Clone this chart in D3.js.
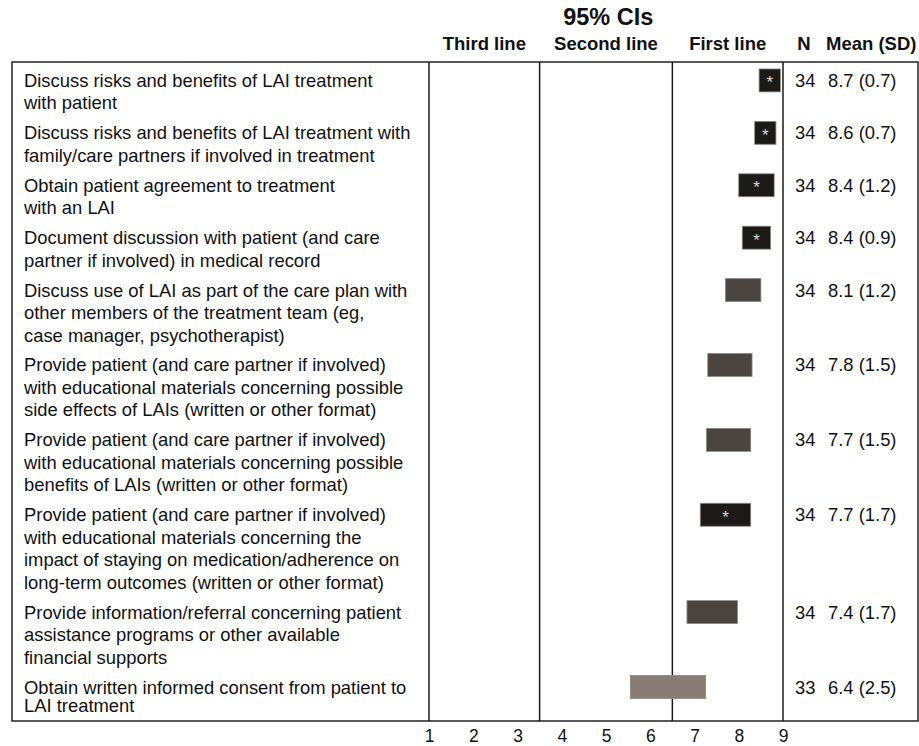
<!DOCTYPE html>
<head>
<meta charset="utf-8">
<title>95% CIs forest chart</title>
<script type="text/javascript" src="https://d3js.org/d3.v7.min.js"></script>
<style>
    body { margin: 0; background: #fff; }
    svg text { font-family: "Liberation Sans", Arial, Helvetica, sans-serif; fill: #111; }
    .label { font-size: 18.4px; }
    .head { font-size: 18.5px; font-weight: bold; }
    .axis text { font-size: 17.5px; }
    .axis path { display: none; }
</style>
</head>
<body>
<div id="container"></div>
<script>
// ---------------- DATA ----------------
var labels = [
    ["Discuss risks and benefits of LAI treatment", "with patient"],
    ["Discuss risks and benefits of LAI treatment with", "family/care partners if involved in treatment"],
    ["Obtain patient agreement to treatment", "with an LAI"],
    ["Document discussion with patient (and care", "partner if involved) in medical record"],
    ["Discuss use of LAI as part of the care plan with", "other members of the treatment team (eg,", "case manager, psychotherapist)"],
    ["Provide patient (and care partner if involved)", "with educational materials concerning possible", "side effects of LAIs (written or other format)"],
    ["Provide patient (and care partner if involved)", "with educational materials concerning possible", "benefits of LAIs (written or other format)"],
    ["Provide patient (and care partner if involved)", "with educational materials concerning the", "impact of staying on medication/adherence on", "long-term outcomes (written or other format)"],
    ["Provide information/referral concerning patient", "assistance programs or other available", "financial supports"],
    ["Obtain written informed consent from patient to", "LAI treatment"]
];
var nVals   = [34, 34, 34, 34, 34, 34, 34, 34, 34, 33];
var means   = ["8.7", "8.6", "8.4", "8.4", "8.1", "7.8", "7.7", "7.7", "7.4", "6.4"];
var sds     = ["0.7", "0.7", "1.2", "0.9", "1.2", "1.5", "1.5", "1.7", "1.7", "2.5"];
var ciLow   = [8.46, 8.36, 8.00, 8.08, 7.70, 7.30, 7.27, 7.13, 6.83, 5.55];
var ciHigh  = [8.94, 8.84, 8.80, 8.72, 8.50, 8.30, 8.27, 8.27, 7.97, 7.25];
var shade   = ["black", "black", "black", "black", "dark", "dark", "dark", "black", "dark", "light"];
var starred = [true, true, true, true, false, false, false, true, false, false];

var ticks = [1, 2, 3, 4, 5, 6, 7, 8, 9];
var bands = [
    {name: "Third line", from: 1, to: 3.5},
    {name: "Second line", from: 3.5, to: 6.5},
    {name: "First line", from: 6.5, to: 9}
];

// ---------------- SVG ----------------
var width = 919, height = 746;
var svg = d3.select("div#container").append("svg")
    .attr("width", width)
    .attr("height", height);

var frame = {left: 12, right: 918, top: 62, bottom: 721};

// row layout: each row takes (lines + 1/3) units, one unit = one text line
var rows = [];
var acc = 0;
labels.forEach(function(l, i) {
    rows.push({i: i, start: acc, lines: l});
    acc += l.length + 1 / 3;
});

var xScale = d3.scaleLinear().domain([1, 9]).range([429, 783]);
var yScale = d3.scaleLinear().domain([0, acc]).range([frame.top, frame.bottom]);
var lineH = yScale(1) - yScale(0);
var color = d3.scaleOrdinal().domain(["black", "dark", "light"]).range(["#1c1a17", "#4a4540", "#877d76"]);

function barMid(d) { return (yScale(d.start + 0.31) + yScale(d.start + 1.33)) / 2; }

// ---------------- FRAME ----------------
svg.append("rect")
    .attr("x", frame.left)
    .attr("y", frame.top)
    .attr("width", frame.right - frame.left)
    .attr("height", frame.bottom - frame.top)
    .attr("fill", "none")
    .attr("stroke", "#222")
    .attr("stroke-width", 1.5);

var edges = [1, 3.5, 6.5, 9];
svg.selectAll(".vline")
    .data(edges)
    .enter().append("line")
    .attr("class", "vline")
    .attr("x1", function(d) { return xScale(d); })
    .attr("x2", function(d) { return xScale(d); })
    .attr("y1", frame.top)
    .attr("y2", frame.bottom)
    .attr("stroke", "#1a1a1a")
    .attr("stroke-width", 1.5);

// ---------------- HEADERS ----------------
svg.append("text")
    .attr("x", xScale(5.05))
    .attr("y", 25)
    .attr("text-anchor", "middle")
    .style("font-size", "23.5px")
    .style("font-weight", "bold")
    .text("95% CIs");

svg.selectAll(".bandhead")
    .data(bands)
    .enter().append("text")
    .attr("class", "head")
    .attr("x", function(d) { return xScale((d.from + d.to) / 2); })
    .attr("y", 50)
    .attr("text-anchor", "middle")
    .text(function(d) { return d.name; });

svg.append("text").attr("class", "head").attr("x", 804).attr("y", 50).attr("text-anchor", "middle").text("N");
svg.append("text").attr("class", "head").attr("x", 826).attr("y", 50).text("Mean (SD)");

// ---------------- BARS ----------------
svg.selectAll(".bar")
    .data(rows)
    .enter().append("rect")
    .attr("class", "bar")
    .attr("x", function(d) { return xScale(ciLow[d.i]); })
    .attr("width", function(d) { return xScale(ciHigh[d.i]) - xScale(ciLow[d.i]); })
    .attr("y", function(d) { return yScale(d.start + 0.31); })
    .attr("height", function(d) { return yScale(d.start + 1.33) - yScale(d.start + 0.31); })
    .attr("fill", function(d) { return color(shade[d.i]); })
    .attr("stroke", "#8a8580")
    .attr("stroke-width", 0.8);

svg.selectAll(".star")
    .data(rows.filter(function(d) { return starred[d.i]; }))
    .enter().append("text")
    .attr("class", "star")
    .attr("x", function(d) { return xScale((ciLow[d.i] + ciHigh[d.i]) / 2); })
    .attr("y", function(d) { return barMid(d) + 8; })
    .attr("text-anchor", "middle")
    .style("font-size", "17px")
    .style("fill", "#d8d8d8")
    .text("*");

// ---------------- ROW LABELS ----------------
var lab = svg.selectAll(".label")
    .data(rows)
    .enter().append("text")
    .attr("class", "label")
    .attr("x", 24)
    .attr("y", function(d) { return barMid(d) + 6.5; });

// the last row is squeezed against the bottom of the frame
lab.selectAll("tspan")
    .data(function(d) { return d.lines.map(function(t) { return {t: t, last: d.i === labels.length - 1}; }); })
    .enter().append("tspan")
    .attr("x", 24)
    .attr("dy", function(d, j) { return j === 0 ? 0 : (d.last ? 18 : lineH); })
    .text(function(d) { return d.t; });

// ---------------- N / MEAN (SD) ----------------
svg.selectAll(".nval")
    .data(rows)
    .enter().append("text")
    .attr("class", "label")
    .attr("x", 795)
    .attr("y", function(d) { return barMid(d) + 6.5; })
    .text(function(d) { return nVals[d.i]; });

svg.selectAll(".mval")
    .data(rows)
    .enter().append("text")
    .attr("class", "label")
    .attr("x", 828)
    .attr("y", function(d) { return barMid(d) + 6.5; })
    .text(function(d) { return means[d.i] + " (" + sds[d.i] + ")"; });

// ---------------- AXIS ----------------
var xaxis = d3.axisBottom(xScale)
    .tickValues(ticks)
    .tickFormat(d3.format("d"))
    .tickSize(0)
    .tickPadding(8.5);

svg.append("g")
    .attr("class", "axis")
    .attr("transform", "translate(0," + frame.bottom + ")")
    .call(xaxis)
    .selectAll("text")
    .style("fill", "#111");
</script>
</body>
